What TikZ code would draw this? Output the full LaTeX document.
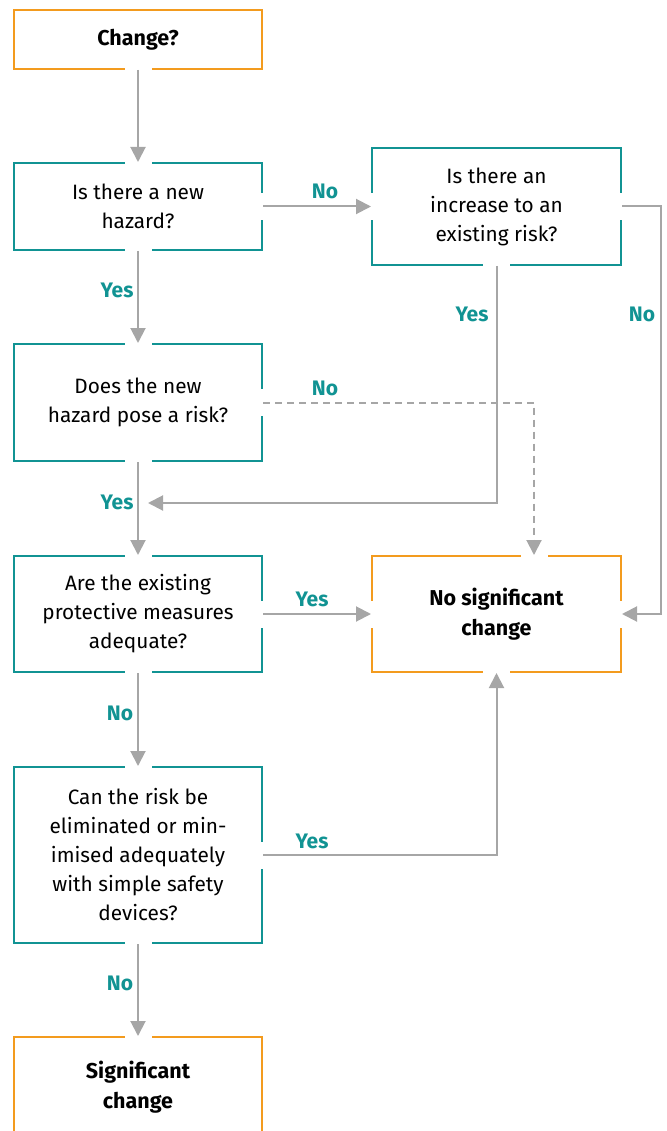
\documentclass[tikz,border=0pt]{standalone}
\usepackage{fontspec}
\setmainfont{Fira Sans}
\usetikzlibrary{arrows.meta}
\definecolor{teal1}{RGB}{17,147,147}
\definecolor{orange1}{RGB}{243,155,30}
\definecolor{gray1}{RGB}{166,166,166}
\tikzset{
  box/.style={draw=teal1, line width=2pt, rectangle, minimum width=248pt, inner sep=0pt,
    align=center, font=\fontsize{20.8}{29}\selectfont, text=black},
  endbox/.style={box, draw=orange1, font=\fontsize{21.5}{30}\selectfont\bfseries},
  conn/.style={draw=gray1, line width=2pt, -{Triangle[length=15pt,width=15pt]}},
  dconn/.style={conn, dash pattern=on 7pt off 5pt},
  lbl/.style={text=teal1, font=\fontsize{21}{24}\selectfont\bfseries, inner sep=0pt},
  hgap/.style={fill=white, draw=none, minimum width=27pt, minimum height=7pt, inner sep=0pt},
  vgap/.style={fill=white, draw=none, minimum width=7pt, minimum height=27pt, inner sep=0pt},
}
\begin{document}
\begin{tikzpicture}[x=1pt,y=-1pt]
\useasboundingbox (0,0) rectangle (666,1131);
\clip (0,0) rectangle (666,1131);
% boxes
\node[endbox, minimum height=59pt] (change) at (138,39.5) {Change?};
\node[box, minimum height=87pt] (q1) at (138,206.5) {Is there a new\\hazard?};
\node[box, minimum width=249pt, minimum height=117pt] (q2) at (496.5,206.5) {Is there an\\increase to an\\existing risk?};
\node[box, minimum height=117pt] (q3) at (138,402.5) {Does the new\\hazard pose a risk?};
\node[box, minimum height=116pt] (q4) at (138,614) {Are the existing\\protective measures\\adequate?};
\node[endbox, minimum width=249pt, minimum height=116pt] (nsc) at (496.5,614) {No significant\\change};
\node[box, minimum height=176pt] (q5) at (138,855) {Can the risk be\\eliminated or min-\\imised adequately\\with simple safety\\devices?};
\node[endbox, minimum height=100pt] (sig) at (138,1087) {Significant\\change};
% helper coordinates
\coordinate (rr) at (661,206.5);
\coordinate (mm) at (148,503);
\coordinate (dd) at (534,402.5);
% gaps in borders
\node[hgap] (g1) at (change.south) {};
\node[hgap] (g2) at (q1.north) {};
\node[hgap] (g3) at (q1.south) {};
\node[vgap] (g4) at (q1.east) {};
\node[vgap] (g5) at (q2.west) {};
\node[vgap] (g6) at (q2.east) {};
\node[hgap] (g7) at (q2.south) {};
\node[hgap] (g8) at (q3.north) {};
\node[hgap] (g9) at (q3.south) {};
\node[vgap] (g10) at (q3.east) {};
\node[hgap] (g11) at (q4.north) {};
\node[hgap] (g12) at (q4.south) {};
\node[vgap] (g13) at (q4.east) {};
\node[hgap] (g14) at (dd |- nsc.north) {};
\node[vgap] (g15) at (nsc.west) {};
\node[vgap] (g16) at (nsc.east) {};
\node[hgap] (g17) at (nsc.south) {};
\node[hgap] (g18) at (q5.north) {};
\node[vgap] (g19) at (q5.east) {};
\node[hgap] (g20) at (q5.south) {};
\node[hgap] (g21) at (sig.north) {};
% connectors
\draw[conn] (change.south) -- (q1.north);
\draw[conn] (q1.east) -- (q2.west);
\draw[conn] (q2.east) -- (rr) |- (nsc.east);
\draw[conn] (q2.south) |- (mm);
\draw[conn] (q1.south) -- (q3.north);
\draw[dconn] (q3.east) -- (dd) -- (dd |- nsc.north);
\draw[conn] (q3.south) -- (q4.north);
\draw[conn] (q4.east) -- (nsc.west);
\draw[conn] (q4.south) -- (q5.north);
\draw[conn] (q5.east) -| (nsc.south);
\draw[conn] (q5.south) -- (sig.north);
% labels
\node[lbl] (l1) at (325,191) {No};
\node[lbl] (l2) at (642,314) {No};
\node[lbl] (l3) at (472,314) {Yes};
\node[lbl] (l4) at (117,290) {Yes};
\node[lbl] (l5) at (325,388) {No};
\node[lbl] (l6) at (117,502) {Yes};
\node[lbl] (l7) at (312,599) {Yes};
\node[lbl] (l8) at (120,713) {No};
\node[lbl] (l9) at (312,841) {Yes};
\node[lbl] (l10) at (120,983) {No};
\end{tikzpicture}
\end{document}
